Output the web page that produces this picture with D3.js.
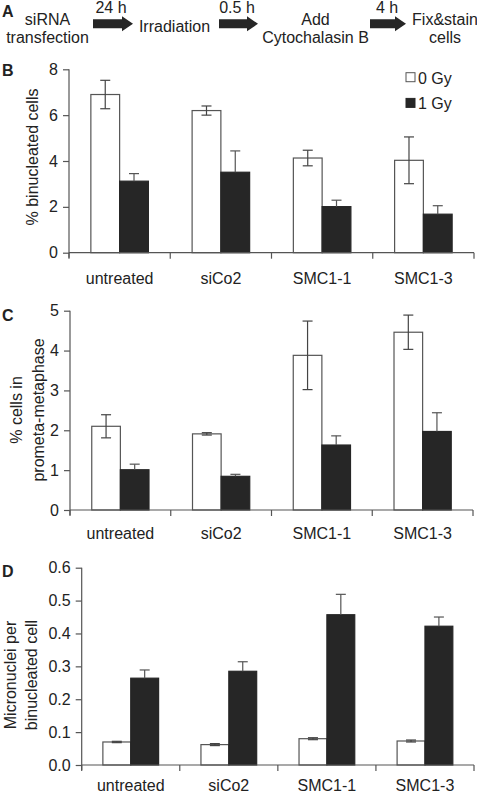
<!DOCTYPE html>
<html><head><meta charset="utf-8">
<script src="https://cdn.jsdelivr.net/npm/d3@7"></script>
<style>
body{margin:0;background:#fff;}
text{font-family:"Liberation Sans",Arial,Helvetica,sans-serif;fill:#222;}
</style></head>
<body>
<svg id="chart" width="477" height="794"></svg>
<script>
const categories = ["untreated","siCo2","SMC1-1","SMC1-3"];
const series = ["0 Gy","1 Gy"];
const colors = ["#ffffff","#262626"];

// Panel B: % binucleated cells
const bVal0 = [6.90, 6.20, 4.13, 4.03];
const bErr0 = [0.62, 0.20, 0.34, 1.02];
const bVal1 = [3.12, 3.51, 2.01, 1.68];
const bErr1 = [0.33, 0.93, 0.28, 0.37];
const bTicks = [0, 2, 4, 6, 8];

// Panel C: % cells in prometa-metaphase
const cVal0 = [2.10, 1.91, 3.88, 4.46];
const cErr0 = [0.29, 0.03, 0.86, 0.43];
const cVal1 = [1.01, 0.845, 1.63, 1.97];
const cErr1 = [0.14, 0.05, 0.23, 0.47];
const cTicks = [0, 1, 2, 3, 4, 5];

// Panel D: micronuclei per binucleated cell
const dVal0 = [0.070, 0.062, 0.080, 0.073];
const dErr0 = [0.002, 0.003, 0.003, 0.003];
const dVal1 = [0.264, 0.285, 0.457, 0.422];
const dErr1 = [0.025, 0.029, 0.062, 0.028];
const dTicks = [0, 0.1, 0.2, 0.3, 0.4, 0.5, 0.6];

// Panel A workflow
const steps = [["siRNA","transfection"],["Irradiation"],["Add","Cytochalasin B"],["Fix&stain","cells"]];
const intervals = ["24 h","0.5 h","4 h"];

const svg = d3.select("#chart");
const FONT = 16;

// ---------- Panel A ----------
svg.append("text").attr("x",2).attr("y",17).attr("font-size",16).attr("font-weight","bold").text("A");
const stepX = [47.5, 174.5, 315.5, 445];
const arrows = [[93,133],[219,258],[370,406]];
steps.forEach((lines,i)=>{
  const t = svg.append("text").attr("text-anchor","middle").attr("font-size",FONT);
  if(lines.length===1){
    t.append("tspan").attr("x",stepX[i]).attr("y",32).text(lines[0]);
  } else {
    lines.forEach((l,j)=>t.append("tspan").attr("x",stepX[i]).attr("y",24.5+j*18.5).text(l));
  }
});
arrows.forEach(([x0,x1],i)=>{
  const cy = 23.8, sh = 4.5, hh = 7.5, hl = 11;
  svg.append("path")
    .attr("d",`M${x0},${cy-sh}L${x1-hl},${cy-sh}L${x1-hl},${cy-hh}L${x1},${cy}L${x1-hl},${cy+hh}L${x1-hl},${cy+sh}L${x0},${cy+sh}Z`)
    .attr("fill","#262626");
  svg.append("text").attr("x",(x0+x1)/2 + (i===2?-1:(i===0?-2:-1.5))).attr("y",12.5).attr("text-anchor","middle").attr("font-size",FONT).text(intervals[i]);
});

// ---------- bar panel ----------
function panel(opts){
  const {left,right,top,bottom,max,ticks,v0,e0,v1,e1,letter,letterY,ylabel,ylabelX,ylabelY,fmt,labelY} = opts;
  const g = svg.append("g");
  const x = d3.scaleBand().domain(categories).range([left,right]).paddingInner(0).paddingOuter(0);
  const xs = d3.scaleBand().domain(series).range([0,x.bandwidth()]).paddingInner(0).paddingOuter(0.76);
  const y = d3.scaleLinear().domain([0,max]).range([bottom,top]);
  const axisColor = "#555";

  const yAxis = g.append("g").attr("transform",`translate(${left},0)`)
    .call(d3.axisLeft(y).tickValues(ticks).tickFormat(fmt).tickSize(6).tickPadding(5));
  yAxis.select(".domain").attr("stroke",axisColor).attr("stroke-width",1.2).attr("d",`M-0,${top}V${bottom+5}`);
  yAxis.selectAll(".tick line").attr("stroke",axisColor).attr("stroke-width",1.2);
  yAxis.selectAll(".tick text").attr("font-size",FONT).attr("fill","#222")
    .attr("font-family","Liberation Sans, Arial, sans-serif");

  const vals = [v0,v1], errs=[e0,e1];
  series.forEach((s,si)=>{
    g.selectAll(null).data(categories).enter().append("rect")
      .attr("x",c=>x(c)+xs(s)).attr("width",xs.bandwidth())
      .attr("y",(c,i)=>y(vals[si][i])).attr("height",(c,i)=>bottom-y(vals[si][i]))
      .attr("fill",colors[si]).attr("stroke",si===0?"#555":"#262626").attr("stroke-width",1.2);
  });
  // error bars: white both ways, black upward only
  series.forEach((s,si)=>{
    categories.forEach((c,i)=>{
      const cx = x(c)+xs(s)+xs.bandwidth()/2;
      const v = vals[si][i], e = errs[si][i];
      const yTop = y(v+e), yBot = si===0 ? y(v-e) : y(v);
      const col = si===0 ? "#444" : "#555";
      g.append("line").attr("x1",cx).attr("x2",cx).attr("y1",yTop).attr("y2",yBot).attr("stroke",col).attr("stroke-width",1.2);
      g.append("line").attr("x1",cx-5).attr("x2",cx+5).attr("y1",yTop).attr("y2",yTop).attr("stroke",col).attr("stroke-width",1.2);
      if(si===0) g.append("line").attr("x1",cx-5).attr("x2",cx+5).attr("y1",yBot).attr("y2",yBot).attr("stroke",col).attr("stroke-width",1.2);
    });
  });
  // x axis
  g.append("line").attr("x1",left).attr("x2",right).attr("y1",bottom).attr("y2",bottom).attr("stroke",axisColor).attr("stroke-width",1.2);
  const bounds = categories.map(c=>x(c)).concat([right]);
  g.selectAll(null).data(bounds).enter().append("line")
    .attr("x1",d=>d).attr("x2",d=>d).attr("y1",bottom).attr("y2",bottom+6).attr("stroke",axisColor).attr("stroke-width",1.2);
  g.selectAll(null).data(categories).enter().append("text")
    .attr("x",c=>x(c)+x.bandwidth()/2).attr("y",labelY).attr("text-anchor","middle").attr("font-size",FONT).text(c=>c);
  // letter
  svg.append("text").attr("x",2).attr("y",letterY).attr("font-size",16).attr("font-weight","bold").text(letter);
  // y label
  ylabel.forEach((l,j)=>{
    svg.append("text").attr("transform",`translate(${ylabelX[j]},${ylabelY}) rotate(-90)`)
      .attr("text-anchor","middle").attr("dominant-baseline","central").attr("font-size",FONT).text(l);
  });
  return {x,y};
}

panel({left:69,right:474,top:69.3,bottom:252.7,max:8,ticks:bTicks,v0:bVal0,e0:bErr0,v1:bVal1,e1:bErr1,
  letter:"B",letterY:76,ylabel:["% binucleated cells"],ylabelX:[32],ylabelY:157,fmt:d3.format("d"),labelY:283.5});
panel({left:70,right:473,top:310.7,bottom:510,max:5,ticks:cTicks,v0:cVal0,e0:cErr0,v1:cVal1,e1:cErr1,
  letter:"C",letterY:321,ylabel:["% cells in","prometa-metaphase"],ylabelX:[16,38],ylabelY:410,fmt:d3.format("d"),labelY:538.5});
panel({left:81.7,right:474,top:567.7,bottom:765,max:0.6,ticks:dTicks,v0:dVal0,e0:dErr0,v1:dVal1,e1:dErr1,
  letter:"D",letterY:577,ylabel:["Micronuclei per","binucleated cell"],ylabelX:[10,31],ylabelY:675,fmt:d3.format(".1f"),labelY:791});

// legend (panel B)
const leg = svg.append("g");
series.forEach((s,i)=>{
  const ly = 72.7 + i*25.7;
  leg.append("rect").attr("x",406).attr("y",ly).attr("width",9).attr("height",9)
    .attr("fill",colors[i]).attr("stroke",i===0?"#555":"#262626").attr("stroke-width",1);
  leg.append("text").attr("x",418).attr("y",ly+11).attr("font-size",FONT).text(s);
});
</script>
</body></html>
